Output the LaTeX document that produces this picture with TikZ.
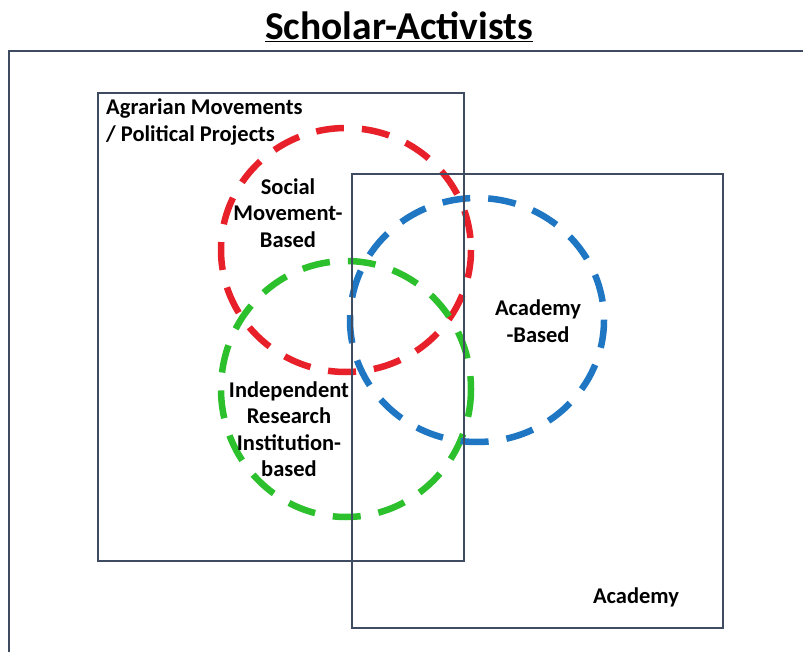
\documentclass[tikz,border=0pt]{standalone}
\usepackage{fontspec}
\setmainfont{Carlito}
\definecolor{framec}{HTML}{3F4B60}
\definecolor{redc}{HTML}{E8202A}
\definecolor{greenc}{HTML}{2DC02D}
\definecolor{bluec}{HTML}{1F77C4}
\begin{document}
\begin{tikzpicture}[x=1pt,y=-1pt,
  frame/.style={draw=framec,line width=1.8pt},
  ring/.style={line width=6.5pt,dash pattern=on 28pt off 18pt},
  lbl/.style={font=\fontsize{22.5}{26.5}\selectfont\bfseries,align=center,inner sep=0pt}]
\useasboundingbox (0,0) rectangle (803,652);
\clip (0,0) rectangle (803,652);
\fill[white] (0,0) rectangle (803,652);
\node[font=\fontsize{39.5}{44}\selectfont\bfseries,inner sep=0pt] (title) at (399,27) {\underline{Scholar-Activists}};
% rings
\draw[ring,draw=redc] (346,250) ellipse [x radius=125,y radius=122];
\draw[ring,draw=greenc] (346,389) ellipse [x radius=125,y radius=128];
\draw[ring,draw=bluec] (477,320) ellipse [x radius=127,y radius=122];
% frames
\draw[frame] (9,51) rectangle (830,690);
\draw[frame] (98,93) rectangle (464,561);
\draw[frame] (352,174) rectangle (723,628);
% labels
\node[lbl,align=left,anchor=north west] (agr) at (106,99) {Agrarian Movements\\/ Political Projects};
\node[lbl] (smb) at (288,213) {Social\\Movement-\\Based};
\node[lbl] (irb) at (289,429) {Independent\\Research\\Institution-\\based};
\node[lbl] (ab) at (538,321) {Academy\\-Based};
\node[lbl] (ac) at (636,597) {Academy};
\end{tikzpicture}
\end{document}
